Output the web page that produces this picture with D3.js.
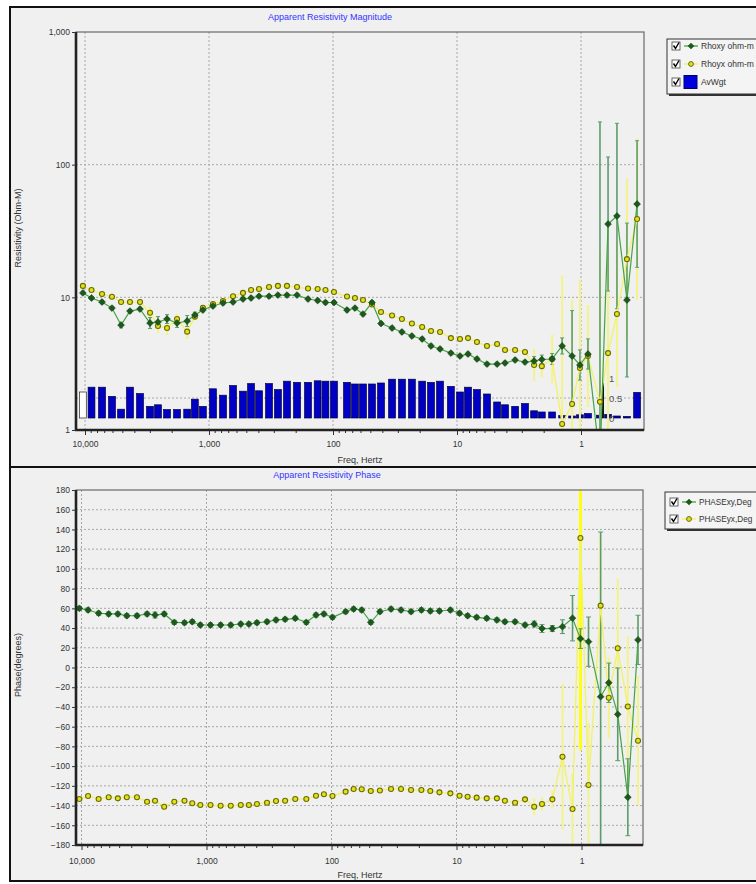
<!DOCTYPE html>
<html>
<head>
<meta charset="utf-8">
<script src="https://cdn.jsdelivr.net/npm/d3@7"></script>
<style>
  body { margin: 0; background: #fff; }
  text { font-family: "Liberation Sans", Arial, sans-serif; }
</style>
</head>
<body>
<svg id="chart" width="756" height="884"></svg>
<script>
// frequencies, Hz
const freqs = [10400, 8860, 7290, 6060, 5120, 4340, 3600, 2990, 2580, 2180,
  1810, 1500, 1300, 1120, 929, 771, 640, 532, 458, 395,
  328, 278, 235, 195, 159, 133, 115, 98.2, 77.1, 66.5,
  57.3, 48.5, 41.0, 33.4, 27.8, 23.1, 19.1, 16.2, 13.7, 11.2,
  9.46, 8.15, 6.90, 5.73, 4.75, 4.10, 3.40, 2.83, 2.39, 2.07,
  1.71, 1.42, 1.18, 1.02, 0.879, 0.703, 0.605, 0.513, 0.426, 0.353];

const rhoxy = [10.8, 9.88, 9.22, 8.30, 6.18, 7.88, 8.16, 6.40, 6.51, 6.86,
  6.40, 6.63, 7.36, 8.02, 8.60, 9.06, 9.22, 9.71, 9.88, 10.2,
  10.2, 10.4, 10.4, 10.4, 9.71, 9.46, 9.14, 9.14, 8.02, 8.30,
  7.48, 9.14, 6.35, 5.87, 5.48, 5.11, 4.85, 4.30, 4.08, 3.80,
  3.61, 3.74, 3.43, 3.14, 3.14, 3.20, 3.37, 3.25, 3.31, 3.40,
  3.43, 4.30, 3.61, 3.09, 3.74, 0.6, 35.7, 41.0, 9.54, 50.5];

const rhoyx = [12.2, 11.35, 10.6, 10.1, 9.22, 9.22, 9.22, 7.65, 6.08, 5.87,
  6.86, 5.51, 7.14, 8.35, 8.90, 9.38, 10.2, 10.8, 11.35, 11.55,
  11.95, 12.2, 12.2, 11.95, 11.65, 11.55, 11.35, 10.96, 10.14, 9.88,
  9.54, 8.83, 7.75, 7.29, 6.86, 6.35, 5.97, 5.57, 5.48, 4.93,
  4.85, 4.93, 4.60, 4.30, 4.45, 4.01, 4.01, 3.87, 3.09, 3.03,
  3.43, 1.11, 1.57, 2.93, 3.61, 1.63, 3.80, 7.48, 19.4, 38.9];

// error bars as multiplicative factors (value / f .. value * f)
const rhoxyErr = [1.03, 1.03, 1.03, 1.03, 1.05, 1.03, 1.03, 1.1, 1.1, 1.08,
  1.08, 1.1, 1.05, 1.03, 1.03, 1.03, 1.03, 1.03, 1.03, 1.03,
  1.03, 1.03, 1.03, 1.03, 1.03, 1.03, 1.03, 1.03, 1.03, 1.03,
  1.03, 1.03, 1.03, 1.03, 1.03, 1.03, 1.03, 1.03, 1.03, 1.03,
  1.03, 1.03, 1.03, 1.03, 1.03, 1.03, 1.03, 1.03, 1.08, 1.08,
  1.1, 1.15, 2.2, 1.3, 1.3, 350, 3.2, 5, 3.8, 3];

const rhoyxErr = [1.03, 1.03, 1.03, 1.03, 1.03, 1.03, 1.03, 1.1, 1.12, 1.12,
  1.08, 1.12, 1.05, 1.03, 1.03, 1.03, 1.03, 1.03, 1.03, 1.03,
  1.03, 1.03, 1.03, 1.03, 1.03, 1.03, 1.03, 1.03, 1.03, 1.03,
  1.03, 1.03, 1.03, 1.03, 1.03, 1.03, 1.03, 1.03, 1.03, 1.03,
  1.03, 1.03, 1.03, 1.03, 1.03, 1.03, 1.03, 1.05, 1.3, 1.2,
  1.5, 13, 6, 4.6, 2.4, 13, 5, 3.5, 4, 4];

const avWgt = [0.65, 0.77, 0.77, 0.54, 0.22, 0.77, 0.61, 0.29, 0.33, 0.21,
  0.21, 0.22, 0.47, 0.29, 0.73, 0.57, 0.81, 0.67, 0.86, 0.68,
  0.86, 0.71, 0.92, 0.89, 0.89, 0.93, 0.92, 0.92, 0.89, 0.85,
  0.85, 0.85, 0.875, 0.97, 0.97, 0.97, 0.92, 0.89, 0.92, 0.79,
  0.65, 0.77, 0.71, 0.60, 0.40, 0.33, 0.29, 0.36, 0.18, 0.15,
  0.15, 0.06, 0.05, 0.08, 0.11, 0.07, 0.09, 0.05, 0.04, 0.64];

const phasexy = [60, 58.3, 55, 54.3, 54.3, 52.5, 52.5, 54.3, 53.2, 54.3,
  45.8, 45.4, 46.4, 43.1, 43.1, 43.1, 43.1, 44.1, 44.1, 45.4,
  46.4, 48.2, 48.9, 49.9, 45.8, 53.2, 54.3, 50.9, 56.6, 59.3,
  58.3, 45.8, 56.6, 59.3, 58.3, 56.6, 58.3, 57.3, 57.3, 58.3,
  55, 52.5, 50.9, 49.9, 48.2, 46.4, 46.4, 43.1, 44.1, 39.5,
  39.5, 41.4, 50, 29.3, 26.2, -29.6, -15.5, -47.5, -131.6, 28];

const phaseyx = [-133.4, -130.3, -133.4, -131.6, -132.7, -131.6, -131.6, -136.1, -135.1, -141.2,
  -136.1, -135.1, -137.7, -139.5, -139.5, -140.2, -140.2, -139.5, -139.5, -138.4,
  -137.1, -135.4, -135.1, -133.4, -133.4, -130, -128.6, -130.3, -125.9, -123.2,
  -123.5, -125.3, -124.7, -123.2, -123.2, -124.2, -124.2, -125.3, -126.6, -127.6,
  -130, -131, -132, -132.7, -132.7, -135.1, -137.1, -133.7, -141.2, -138.4,
  -133.7, -90.5, -143.5, 131.3, -119.2, 62.7, -30.6, 19.5, -39.5, -74.3];

// error half-widths, degrees
const phasexyErr = [2, 2, 2, 2, 2, 2, 2, 2, 3, 2,
  2, 2, 2, 2, 2, 2, 2, 2, 2, 2,
  2, 2, 2, 2, 2, 2, 2, 2, 2, 2,
  2, 2, 2, 2, 2, 2, 2, 2, 2, 2,
  2, 2, 2, 2, 2, 2, 2, 2, 3, 4,
  3, 7, 23, 10, 25, 167, 20, 47, 39, 25];

const phaseyxErr = [2, 2, 2, 2, 2, 2, 2, 2, 2, 3,
  2, 2, 2, 2, 2, 2, 2, 2, 2, 2,
  2, 2, 2, 2, 2, 2, 2, 2, 2, 2,
  2, 2, 2, 2, 2, 2, 2, 2, 2, 2,
  2, 2, 2, 2, 2, 2, 2, 3, 8, 6,
  8, 73, 35, 215, 62, 70, 40, 70, 70, 65];

const freqTicks = [10000, 1000, 100, 10, 1];
const rhoTicks = [1, 10, 100, 1000];
const rhoGrid = [10, 100];
const phaseTicks = [180, 160, 140, 120, 100, 80, 60, 40, 20, 0,
  -20, -40, -60, -80, -100, -120, -140, -160, -180];
const wgtTicks = [1, 0.5, 0];

const GREEN_LINE = "#45a345", GREEN_DOT = "#1c5a1c", GREEN_ERR = "#5c9c6c";
const YEL_LINE = "#f2f266", YEL_DOT = "#e2e21a", YEL_RIM = "#6a6a08", YEL_ERR = "#f3f38c";
const DIAMOND = d3.symbolDiamond2 || d3.symbolDiamond;

const svg = d3.select("#chart");
const fmt = d3.format(",");
const rows = freqs.map((f, i) => ({
  f, xy: rhoxy[i], yx: rhoyx[i], exy: rhoxyErr[i], eyx: rhoyxErr[i], w: avWgt[i],
  pxy: phasexy[i], pyx: phaseyx[i], epxy: phasexyErr[i], epyx: phaseyxErr[i], i
}));

// frame of both panels
svg.append("rect").attr("x", 10).attr("y", 7).attr("width", 760).attr("height", 874)
  .attr("fill", "#f0f0f0").attr("stroke", "#111").attr("stroke-width", 2);
svg.append("line").attr("x1", 10).attr("x2", 756).attr("y1", 467).attr("y2", 467)
  .attr("stroke", "#111").attr("stroke-width", 2);

const styleAxis = (g, size) => {
  g.select(".domain").remove();
  g.selectAll(".tick line").attr("stroke", "#333");
  g.selectAll(".tick text").attr("fill", "#333").style("font-size", size + "px")
    .style("font-family", "'Liberation Sans', Arial, sans-serif");
};

const checkbox = (g, x, y) => {
  g.append("rect").attr("x", x).attr("y", y - 4).attr("width", 8).attr("height", 8)
    .attr("fill", "#fff").attr("stroke", "#444").attr("stroke-width", 0.8);
  g.append("path").attr("d", `M${x + 1.5},${y - 0.5} L${x + 3.5},${y + 2.5} L${x + 7},${y - 3.5}`)
    .attr("fill", "none").attr("stroke", "#000").attr("stroke-width", 1.4);
};

const errBars = (g, data, x, lo, hi, color, width, cap) => {
  const e = g.append("g").attr("stroke", color).attr("stroke-width", width);
  data.forEach(d => {
    const cx = x(d), y1 = lo(d), y2 = hi(d);
    e.append("line").attr("class", "bar" + d.i).attr("x1", cx).attr("x2", cx).attr("y1", y1).attr("y2", y2);
    e.append("line").attr("x1", cx - cap).attr("x2", cx + cap).attr("y1", y1).attr("y2", y1).attr("stroke-width", 1);
    e.append("line").attr("x1", cx - cap).attr("x2", cx + cap).attr("y1", y2).attr("y2", y2).attr("stroke-width", 1);
  });
  return e;
};

// ---------------- top: apparent resistivity ----------------
const T = { l: 76, r: 644, t: 32, b: 430 };
const xTop = d3.scaleLog().domain([10000, 1]).range([85, 581]);
const yRho = d3.scaleLog().domain([1, 1000]).range([T.b, T.t]);
const yW = d3.scaleLinear().domain([0, 1]).range([418, 378]);

const topG = svg.append("g");
topG.append("text").attr("x", 330).attr("y", 20).attr("text-anchor", "middle")
  .attr("fill", "#3434ff").style("font-size", "9px").text("Apparent Resistivity Magnitude");

const grid = topG.append("g").attr("stroke", "#a8a8a8").attr("stroke-dasharray", "2,2");
grid.selectAll("line.v").data(freqTicks).join("line")
  .attr("x1", d => xTop(d)).attr("x2", d => xTop(d)).attr("y1", T.t).attr("y2", T.b);
grid.selectAll("line.h").data(rhoGrid).join("line")
  .attr("x1", T.l).attr("x2", T.r).attr("y1", d => yRho(d)).attr("y2", d => yRho(d));
grid.append("line").attr("x1", T.l).attr("x2", T.r).attr("y1", yW(0.5)).attr("y2", yW(0.5));

topG.append("clipPath").attr("id", "clipTop").append("rect")
  .attr("x", T.l).attr("y", T.t).attr("width", T.r - T.l).attr("height", T.b - T.t);
const plotTop = topG.append("g").attr("clip-path", "url(#clipTop)");

plotTop.selectAll("rect.bar").data(rows).join("rect")
  .attr("x", d => xTop(d.f) - 3.4).attr("width", 6.8)
  .attr("y", d => yW(d.w)).attr("height", d => yW(0) - yW(d.w))
  .attr("fill", d => d.i === 0 ? "#fff" : "#0000c4")
  .attr("stroke", d => d.i === 0 ? "#222" : "#00003a").attr("stroke-width", 0.7);

// AvWgt scale drawn inside the plot
plotTop.append("line").attr("x1", 603).attr("x2", 603).attr("y1", yW(0.88)).attr("y2", yW(0))
  .attr("stroke", "#111").attr("stroke-width", 2);
plotTop.selectAll("text.w").data(wgtTicks).join("text")
  .attr("x", 609).attr("y", d => yW(d) + 3.5)
  .attr("fill", "#555").style("font-size", "9.5px").text(d => d);

errBars(plotTop, rows, d => xTop(d.f), d => yRho(d.yx / d.eyx), d => yRho(d.yx * d.eyx), YEL_ERR, 2, 1.5);
errBars(plotTop, rows, d => xTop(d.f), d => yRho(d.xy / d.exy), d => yRho(d.xy * d.exy), GREEN_ERR, 1.6, 2);

plotTop.append("path").datum(rows)
  .attr("d", d3.line().x(d => xTop(d.f)).y(d => yRho(d.yx)))
  .attr("fill", "none").attr("stroke", YEL_LINE).attr("stroke-width", 1.3);
plotTop.append("path").datum(rows)
  .attr("d", d3.line().x(d => xTop(d.f)).y(d => yRho(d.xy)))
  .attr("fill", "none").attr("stroke", GREEN_LINE).attr("stroke-width", 1.2);

plotTop.selectAll("circle.yx").data(rows).join("circle")
  .attr("cx", d => xTop(d.f)).attr("cy", d => yRho(d.yx)).attr("r", 2.5)
  .attr("fill", YEL_DOT).attr("stroke", YEL_RIM).attr("stroke-width", 1.1);
plotTop.selectAll("path.xy").data(rows).join("path")
  .attr("transform", d => `translate(${xTop(d.f)},${yRho(d.xy)})`)
  .attr("d", d3.symbol(DIAMOND, 30))
  .attr("fill", GREEN_DOT).attr("stroke", "#0c360c").attr("stroke-width", 0.5);

// frame and axes
topG.append("rect").attr("x", T.l).attr("y", T.t).attr("width", T.r - T.l).attr("height", T.b - T.t)
  .attr("fill", "none").attr("stroke", "#6a6a6a").attr("stroke-width", 1.2);
topG.append("line").attr("x1", T.l).attr("x2", T.l).attr("y1", T.t).attr("y2", T.b + 1)
  .attr("stroke", "#222").attr("stroke-width", 2.6);
topG.append("line").attr("x1", T.l - 1).attr("x2", T.r).attr("y1", T.b).attr("y2", T.b)
  .attr("stroke", "#222").attr("stroke-width", 2.6);

topG.append("g").attr("transform", `translate(${T.l},0)`)
  .call(d3.axisLeft(yRho).tickValues(rhoTicks).tickFormat(fmt).tickSize(4).tickPadding(2))
  .call(g => styleAxis(g, 8.5));
topG.append("g").attr("transform", `translate(0,${T.b + 1})`)
  .call(d3.axisBottom(xTop).tickValues(xTop.ticks().filter(v => v > 0.31 && v < 11800 && !freqTicks.includes(v)))
    .tickFormat("").tickSize(2))
  .call(g => styleAxis(g, 8.5));
topG.append("g").attr("transform", `translate(0,${T.b + 1})`)
  .call(d3.axisBottom(xTop).tickValues(freqTicks).tickFormat(fmt).tickSize(4).tickPadding(6))
  .call(g => styleAxis(g, 8.5));

topG.append("text").attr("x", 360).attr("y", 463).attr("text-anchor", "middle")
  .attr("fill", "#333").style("font-size", "9px").text("Freq, Hertz");
topG.append("text").attr("transform", "translate(21,228) rotate(-90)").attr("text-anchor", "middle")
  .attr("fill", "#333").style("font-size", "9px").text("Resistivity (Ohm-M)");

// legend
const lt = topG.append("g");
lt.append("rect").attr("x", 669).attr("y", 41).attr("width", 100).attr("height", 55).attr("fill", "#333");
lt.append("rect").attr("x", 667).attr("y", 39).attr("width", 100).attr("height", 55)
  .attr("fill", "#f4f4f4").attr("stroke", "#333").attr("stroke-width", 1);
[["Rhoxy ohm-m", 46], ["Rhoyx ohm-m", 64], ["AvWgt", 82]].forEach(([name, y], k) => {
  checkbox(lt, 672, y);
  if (k === 0) {
    lt.append("line").attr("x1", 684).attr("x2", 698).attr("y1", y).attr("y2", y).attr("stroke", GREEN_LINE).attr("stroke-width", 1.3);
    lt.append("path").attr("transform", `translate(691,${y})`).attr("d", d3.symbol(DIAMOND, 28)).attr("fill", GREEN_DOT);
  } else if (k === 1) {
    lt.append("line").attr("x1", 684).attr("x2", 698).attr("y1", y).attr("y2", y).attr("stroke", YEL_LINE).attr("stroke-width", 1.3);
    lt.append("circle").attr("cx", 691).attr("cy", y).attr("r", 2.4).attr("fill", YEL_DOT).attr("stroke", YEL_RIM).attr("stroke-width", 1);
  } else {
    lt.append("rect").attr("x", 684).attr("y", y - 6.5).attr("width", 13).attr("height", 13).attr("fill", "#0000dd").attr("stroke", "#00006a");
  }
  lt.append("text").attr("x", 701).attr("y", y + 3.2).attr("fill", "#333").style("font-size", "8.5px").text(name);
});

// ---------------- bottom: phase ----------------
const B = { l: 76, r: 643, t: 490, b: 845 };
const xBot = d3.scaleLog().domain([10000, 1]).range([81.5, 581.5]);
const yPh = d3.scaleLinear().domain([-180, 180]).range([B.b, B.t]);

const botG = svg.append("g");
botG.append("text").attr("x", 327).attr("y", 478).attr("text-anchor", "middle")
  .attr("fill", "#3434ff").style("font-size", "9px").text("Apparent Resistivity Phase");

const grid2 = botG.append("g").attr("stroke", "#a8a8a8").attr("stroke-dasharray", "2,2");
grid2.selectAll("line.v").data(freqTicks).join("line")
  .attr("x1", d => xBot(d)).attr("x2", d => xBot(d)).attr("y1", B.t).attr("y2", B.b);
grid2.selectAll("line.h").data(phaseTicks.filter(v => Math.abs(v) < 180)).join("line")
  .attr("x1", B.l).attr("x2", B.r).attr("y1", d => yPh(d)).attr("y2", d => yPh(d));

botG.append("clipPath").attr("id", "clipBot").append("rect")
  .attr("x", B.l).attr("y", B.t).attr("width", B.r - B.l).attr("height", B.b - B.t);
const plotBot = botG.append("g").attr("clip-path", "url(#clipBot)");

const yErrBot = errBars(plotBot, rows, d => xBot(d.f), d => yPh(d.pyx - d.epyx), d => yPh(d.pyx + d.epyx), YEL_ERR, 2, 1.5);
yErrBot.select("line.bar53").attr("stroke", "#ffff10").attr("stroke-width", 3);
errBars(plotBot, rows, d => xBot(d.f), d => yPh(d.pxy - d.epxy), d => yPh(d.pxy + d.epxy), GREEN_ERR, 1.6, 2.5);

plotBot.append("path").datum(rows)
  .attr("d", d3.line().x(d => xBot(d.f)).y(d => yPh(d.pyx)))
  .attr("fill", "none").attr("stroke", YEL_LINE).attr("stroke-width", 1.3);
plotBot.append("path").datum(rows)
  .attr("d", d3.line().x(d => xBot(d.f)).y(d => yPh(d.pxy)))
  .attr("fill", "none").attr("stroke", GREEN_LINE).attr("stroke-width", 1.2);

plotBot.selectAll("circle.yx").data(rows).join("circle")
  .attr("cx", d => xBot(d.f)).attr("cy", d => yPh(d.pyx)).attr("r", 2.5)
  .attr("fill", YEL_DOT).attr("stroke", YEL_RIM).attr("stroke-width", 1.1);
plotBot.selectAll("path.xy").data(rows).join("path")
  .attr("transform", d => `translate(${xBot(d.f)},${yPh(d.pxy)})`)
  .attr("d", d3.symbol(DIAMOND, 30))
  .attr("fill", GREEN_DOT).attr("stroke", "#0c360c").attr("stroke-width", 0.5);

botG.append("rect").attr("x", B.l).attr("y", B.t).attr("width", B.r - B.l).attr("height", B.b - B.t)
  .attr("fill", "none").attr("stroke", "#6a6a6a").attr("stroke-width", 1.2);
botG.append("line").attr("x1", B.l).attr("x2", B.l).attr("y1", B.t).attr("y2", B.b + 1)
  .attr("stroke", "#222").attr("stroke-width", 2.6);
botG.append("line").attr("x1", B.l - 1).attr("x2", B.r).attr("y1", B.b).attr("y2", B.b)
  .attr("stroke", "#222").attr("stroke-width", 2.6);

botG.append("g").attr("transform", `translate(${B.l},0)`)
  .call(d3.axisLeft(yPh).tickValues(phaseTicks).tickSize(4).tickPadding(2))
  .call(g => styleAxis(g, 8.5));
botG.append("g").attr("transform", `translate(0,${B.b + 1})`)
  .call(d3.axisBottom(xBot).tickValues(xBot.ticks().filter(v => v > 0.31 && v < 11800 && !freqTicks.includes(v)))
    .tickFormat("").tickSize(2))
  .call(g => styleAxis(g, 8.5));
botG.append("g").attr("transform", `translate(0,${B.b + 1})`)
  .call(d3.axisBottom(xBot).tickValues(freqTicks).tickFormat(fmt).tickSize(4).tickPadding(8))
  .call(g => styleAxis(g, 8.5));

botG.append("text").attr("x", 360).attr("y", 878).attr("text-anchor", "middle")
  .attr("fill", "#333").style("font-size", "9px").text("Freq, Hertz");
botG.append("text").attr("transform", "translate(21,665) rotate(-90)").attr("text-anchor", "middle")
  .attr("fill", "#333").style("font-size", "9px").text("Phase(degrees)");

const lb = botG.append("g");
lb.append("rect").attr("x", 667).attr("y", 494).attr("width", 100).attr("height", 37).attr("fill", "#333");
lb.append("rect").attr("x", 665).attr("y", 492).attr("width", 100).attr("height", 37)
  .attr("fill", "#f4f4f4").attr("stroke", "#333").attr("stroke-width", 1);
[["PHASExy,Deg", 502], ["PHASEyx,Deg", 519]].forEach(([name, y], k) => {
  checkbox(lb, 670, y);
  lb.append("line").attr("x1", 682).attr("x2", 696).attr("y1", y).attr("y2", y)
    .attr("stroke", k === 0 ? GREEN_LINE : YEL_LINE).attr("stroke-width", 1.3);
  if (k === 0) {
    lb.append("path").attr("transform", `translate(689,${y})`).attr("d", d3.symbol(DIAMOND, 28)).attr("fill", GREEN_DOT);
  } else {
    lb.append("circle").attr("cx", 689).attr("cy", y).attr("r", 2.4).attr("fill", YEL_DOT).attr("stroke", YEL_RIM).attr("stroke-width", 1);
  }
  lb.append("text").attr("x", 699).attr("y", y + 3.2).attr("fill", "#333").style("font-size", "8.2px").text(name);
});
</script>
</body>
</html>
